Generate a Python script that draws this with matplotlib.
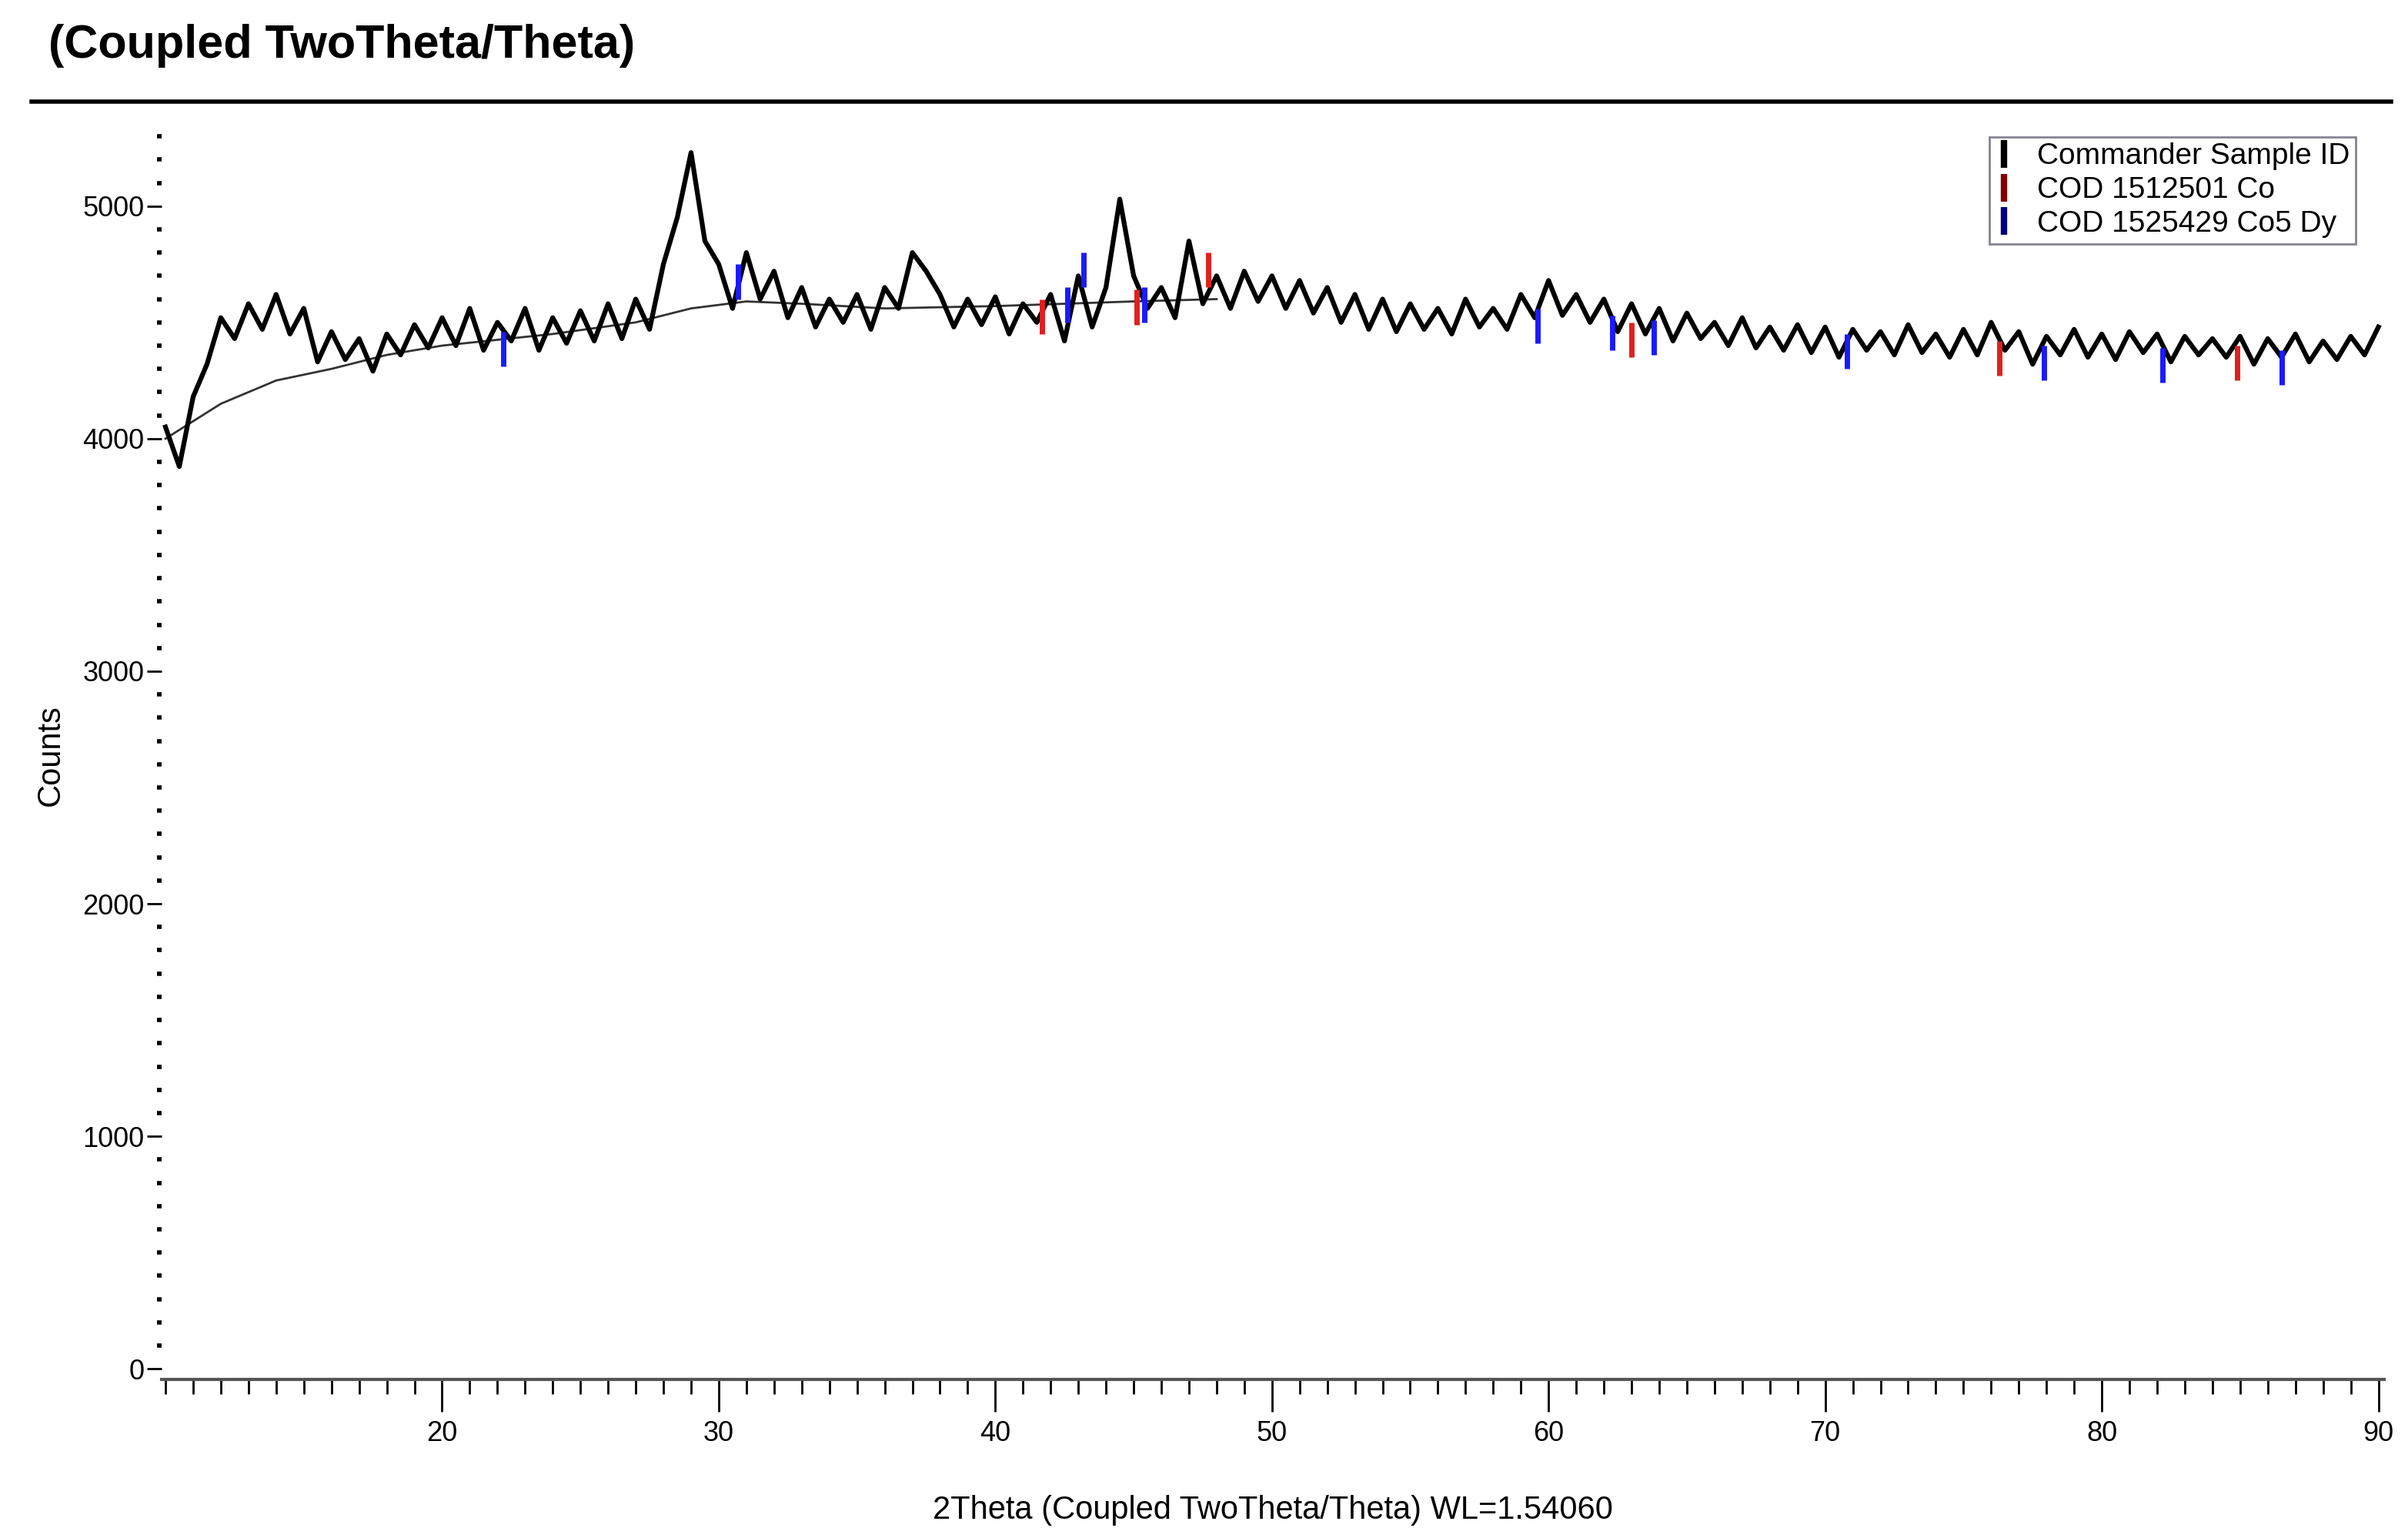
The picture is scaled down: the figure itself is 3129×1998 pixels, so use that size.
import numpy as np
import matplotlib.pyplot as plt
from matplotlib.ticker import MultipleLocator
from matplotlib.lines import Line2D

plt.rcParams['font.family'] = ['Liberation Sans', 'DejaVu Sans']

# measured pattern, 0.5 deg steps from 10 to 90
two_theta = np.arange(10, 90.01, 0.5)
counts = [
    4050, 3880, 4180, 4320, 4520, 4430, 4580, 4470, 4620, 4450,
    4560, 4330, 4460, 4340, 4430, 4290, 4450, 4360, 4490, 4390,
    4520, 4400, 4560, 4380, 4500, 4420, 4560, 4380, 4520, 4410,
    4550, 4420, 4580, 4430, 4600, 4470, 4750, 4950, 5230, 4850,
    4750, 4560, 4800, 4600, 4720, 4520, 4650, 4480, 4600, 4500,
    4620, 4470, 4650, 4560, 4800, 4720, 4620, 4480, 4600, 4490,
    4610, 4450, 4580, 4500, 4620, 4420, 4700, 4480, 4650, 5030,
    4700, 4560, 4650, 4520, 4850, 4580, 4700, 4560, 4720, 4590,
    4700, 4560, 4680, 4540, 4650, 4500, 4620, 4470, 4600, 4460,
    4580, 4470, 4560, 4450, 4600, 4480, 4560, 4470, 4620, 4520,
    4680, 4530, 4620, 4500, 4600, 4460, 4580, 4450, 4560, 4420,
    4540, 4430, 4500, 4400, 4520, 4390, 4480, 4380, 4490, 4370,
    4480, 4350, 4470, 4380, 4460, 4360, 4490, 4370, 4450, 4350,
    4470, 4360, 4500, 4380, 4460, 4320, 4440, 4360, 4470, 4350,
    4450, 4340, 4460, 4370, 4450, 4330, 4440, 4360, 4430, 4350,
    4440, 4320, 4430, 4350, 4450, 4330, 4420, 4340, 4440, 4360,
    4480,
]

# background
bg_x = [10, 12, 14, 16, 18, 20, 24, 27, 29, 31, 33, 36, 40, 45, 48]
bg_y = [4000, 4150, 4250, 4300, 4360, 4400, 4450, 4500, 4560, 4590, 4580, 4560, 4570, 4590, 4600]

# reference lines
blue_pos = [22.2, 30.7, 42.6, 43.2, 45.4, 59.6, 62.3, 63.8, 70.8, 77.9, 82.2, 86.5]
blue_top = [4460, 4750, 4650, 4800, 4650, 4560, 4530, 4510, 4450, 4400, 4390, 4380]
red_pos = [41.7, 45.1, 47.7, 63.0, 76.3, 84.9]
red_top = [4600, 4640, 4800, 4500, 4420, 4400]

fig = plt.figure(figsize=(31.29, 19.98), dpi=100)
ax = fig.add_axes([0.067, 0.103, 0.923, 0.812])

ax.plot(bg_x, bg_y, color='#333333', lw=2)
ax.plot(two_theta, counts, color='black', lw=4.5)
ax.vlines(blue_pos, [t - 150 for t in blue_top], blue_top, color='#1a1aff', lw=5)
ax.vlines(red_pos, [t - 150 for t in red_top], red_top, color='#e02020', lw=5)

ax.set_xlim(9.85, 90.2)
ax.set_ylim(-46, 5324)
for s in ['top', 'right', 'left']:
    ax.spines[s].set_visible(False)
ax.spines['bottom'].set_color('#555555')
ax.spines['bottom'].set_linewidth(3)

ax.xaxis.set_minor_locator(MultipleLocator(1))
ax.set_xticks([20, 30, 40, 50, 60, 70, 80, 90])
ax.tick_params(axis='x', which='major', length=30, width=2, labelsize=26, pad=8)
ax.tick_params(axis='x', which='minor', length=14, width=2)
ax.yaxis.set_major_locator(MultipleLocator(1000))
ax.yaxis.set_minor_locator(MultipleLocator(100))
ax.tick_params(axis='y', which='major', length=14, width=2, labelsize=26, pad=2)
ax.tick_params(axis='y', which='minor', length=4, width=4)

ax.set_xlabel('2Theta (Coupled TwoTheta/Theta) WL=1.54060', fontsize=30, labelpad=45)
ax.set_ylabel('Counts', fontsize=30, labelpad=15)

fig.text(0.02, 0.97, '(Coupled TwoTheta/Theta)', fontsize=44, fontweight='bold',
         va='center', ha='left')
fig.add_artist(Line2D([0.013, 0.993], [0.934, 0.934], color='black', lw=4))

handles = [Line2D([], [], color=c, marker='|', markersize=26, markeredgewidth=6, lw=0)
           for c in ['black', '#800000', '#000080']]
leg = ax.legend(handles, ['Commander Sample ID', 'COD 1512501 Co', 'COD 1525429 Co5 Dy'],
                loc='upper right', bbox_to_anchor=(0.99, 1.0), fontsize=28,
                handlelength=0.6, frameon=True, fancybox=False, borderaxespad=0.2,
                labelspacing=0.2, handletextpad=0.8, borderpad=0.2)
leg.get_frame().set_edgecolor('#666677')
leg.get_frame().set_linewidth(2)

fig.savefig('out.png', dpi=100)
